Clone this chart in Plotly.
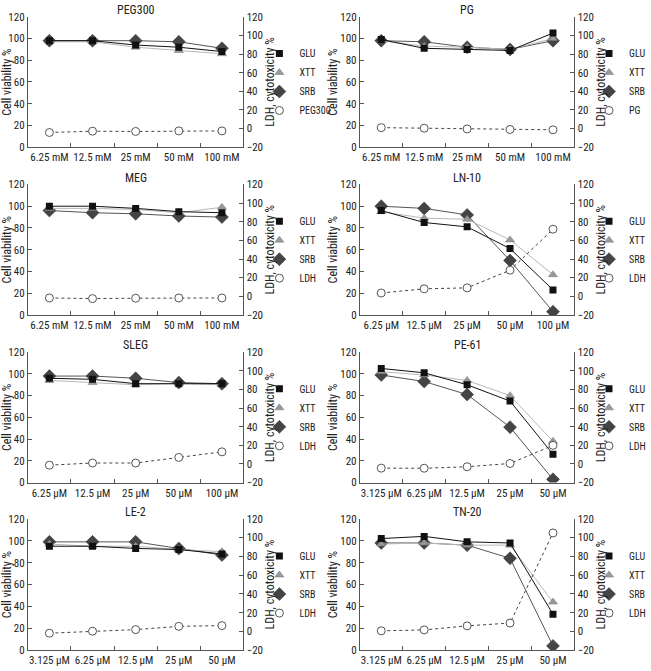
import plotly.graph_objects as go

W, H = 651, 671

panel_titles = ["PEG300", "PG", "MEG", "LN-10", "SLEG", "PE-61", "LE-2", "TN-20"]
conc_mM = ["6.25 mM", "12.5 mM", "25 mM", "50 mM", "100 mM"]
conc_uM_a = ["6.25 µM", "12.5 µM", "25 µM", "50 µM", "100 µM"]
conc_uM_b = ["3.125 µM", "6.25 µM", "12.5 µM", "25 µM", "50 µM"]
x_labels = [conc_mM, conc_mM, conc_mM, conc_uM_a, conc_uM_a, conc_uM_b, conc_uM_b, conc_uM_b]
ldh_names = ["PEG300", "PG", "LDH", "LDH", "LDH", "LDH", "LDH", "LDH"]

# Cell viability % (left axis)
glu_values = [
    [98, 98, 94, 92, 88],
    [99, 91, 90, 89, 105],
    [100, 100, 98, 95, 94],
    [96, 85, 81, 61, 23],
    [96, 95, 91, 91, 91],
    [105, 101, 90, 75, 26],
    [95, 95, 93, 92, 88],
    [102, 104, 99, 98, 33],
]
xtt_values = [
    [97, 97, 92, 89, 86],
    [98, 93, 92, 90, 100],
    [98, 98, 97, 94, 99],
    [95, 89, 88, 69, 37],
    [94, 92, 90, 91, 90],
    [102, 99, 94, 80, 38],
    [97, 95, 95, 92, 90],
    [97, 98, 96, 96, 44],
]
srb_values = [
    [98, 98, 98, 97, 91],
    [98, 97, 92, 90, 98],
    [96, 94, 93, 91, 90],
    [100, 98, 92, 50, 3],
    [98, 98, 96, 92, 91],
    [99, 93, 81, 51, 3],
    [99, 99, 99, 93, 87],
    [98, 98, 96, 84, 4],
]
# LDH, cytotoxicity % (right axis)
ldh_values = [
    [-4.2, -2.8, -3.1, -2.5, -2.5],
    [1, 0.4, -0.4, -1, -1.3],
    [-1.8, -2.5, -2.1, -1.8, -1.8],
    [3.5, 8, 9, 28, 72],
    [-1.3, 1, 1, 7, 13],
    [-4.5, -4.6, -3, 0.5, 20],
    [-1.8, 0.3, 2, 5.5, 6.3],
    [0.7, 1.7, 6, 9, 105],
]

FONT = "Liberation Sans Narrow, Arial Narrow, Roboto Condensed, Liberation Sans, Arial, sans-serif"
AXC = "#555555"
TXT = "#222222"

col_px = [(28, 245), (362, 578)]
row_px = [(11, 144), (182, 315), (353, 486), (523, 657)]
legend_left_px = [261, 593]

series_style = [
    ("GLU", glu_values, "left", dict(color="#111111", width=1),
     dict(symbol="square", size=7, color="#111111"), 1),
    ("XTT", xtt_values, "left", dict(color="#b8b8b8", width=1),
     dict(symbol="triangle-up", size=8, color="#999999", line=dict(color="#777777", width=0.5)), 2),
    ("SRB", srb_values, "left", dict(color="#555555", width=1),
     dict(symbol="diamond", size=10, color="#444444", line=dict(color="#333333", width=0.5)), 3),
    ("LDH", ldh_values, "right", dict(color="#444444", width=1, dash="3px,3px"),
     dict(symbol="circle", size=8, color="white", line=dict(color="#555555", width=1)), 4),
]
draw_order = [2, 1, 0, 3]

fig = go.Figure()
layout = dict(
    width=W, height=H,
    margin=dict(l=0, r=0, t=0, b=0),
    paper_bgcolor="white", plot_bgcolor="white",
    font=dict(family=FONT, size=11, color=TXT),
    showlegend=True,
)
annotations = []

for i in range(8):
    r, c = divmod(i, 2)
    x0, x1 = col_px[c]
    t, b = row_px[r]
    xd = [x0 / W, x1 / W]
    yd = [1 - b / H, 1 - t / H]
    xn = f"x{i+1}"
    yl = f"y{2*i+1}"
    yr = f"y{2*i+2}"
    leg = "legend" if i == 0 else f"legend{i+1}"
    xl = x_labels[i]

    for k in draw_order:
        key, vals, side, lstyle, mstyle, rank = series_style[k]
        name = ldh_names[i] if key == "LDH" else key
        ya = yl if side == "left" else yr
        fig.add_trace(go.Scatter(
            x=xl, y=vals[i], xaxis=xn, yaxis=ya, mode="lines",
            line=lstyle, showlegend=False, hoverinfo="skip"))
        fig.add_trace(go.Scatter(
            x=xl, y=vals[i], name=name, xaxis=xn, yaxis=ya, legend=leg,
            mode="markers", marker=mstyle, legendrank=rank))

    sfx = "" if i == 0 else str(i + 1)
    layout[f"xaxis{sfx}"] = dict(
        domain=xd, anchor=yl, type="category", range=[-0.5, 4.5],
        tickson="boundaries", ticks="inside", ticklen=4, tickcolor=AXC,
        showline=True, linecolor=AXC, linewidth=1, showgrid=False, zeroline=False,
        tickangle=0, tickfont=dict(size=11, color=TXT),
    )
    layout[f"yaxis{2*i+1}"] = dict(
        domain=yd, anchor=xn, range=[0, 120], dtick=20,
        ticks="inside", ticklen=4, tickcolor=AXC,
        showline=True, linecolor=AXC, linewidth=1, showgrid=False, zeroline=False,
        tickfont=dict(size=11, color=TXT),
        title=dict(text="Cell viability %", font=dict(size=12, color=TXT), standoff=0),
    )
    layout[f"yaxis{2*i+2}"] = dict(
        domain=yd, anchor=xn, overlaying=yl, side="right", range=[-20, 120], dtick=20,
        ticks="inside", ticklen=4, tickcolor=AXC,
        showline=True, linecolor=AXC, linewidth=1, showgrid=False, zeroline=False,
        tickfont=dict(size=11, color=TXT),
        title=dict(text="LDH, cytotoxicity %", font=dict(size=12, color=TXT), standoff=0),
    )
    layout[leg] = dict(
        x=legend_left_px[c] / W, y=1 - ((t + b) / 2) / H, xanchor="left", yanchor="middle",
        bgcolor="rgba(0,0,0,0)", borderwidth=0, tracegroupgap=0,
        font=dict(size=10, color=TXT),
    )
    annotations.append(dict(
        text=panel_titles[i], x=(x0 + x1) / 2 / W, y=1 - (t - 7) / H,
        xref="paper", yref="paper", xanchor="center", yanchor="middle",
        showarrow=False, font=dict(size=12, color=TXT),
    ))

layout["annotations"] = annotations
fig.update_layout(**layout)
fig.write_html(
    "out.html",
    config={"displayModeBar": False},
    post_script="document.body.style.margin='0';document.documentElement.style.margin='0';",
)
